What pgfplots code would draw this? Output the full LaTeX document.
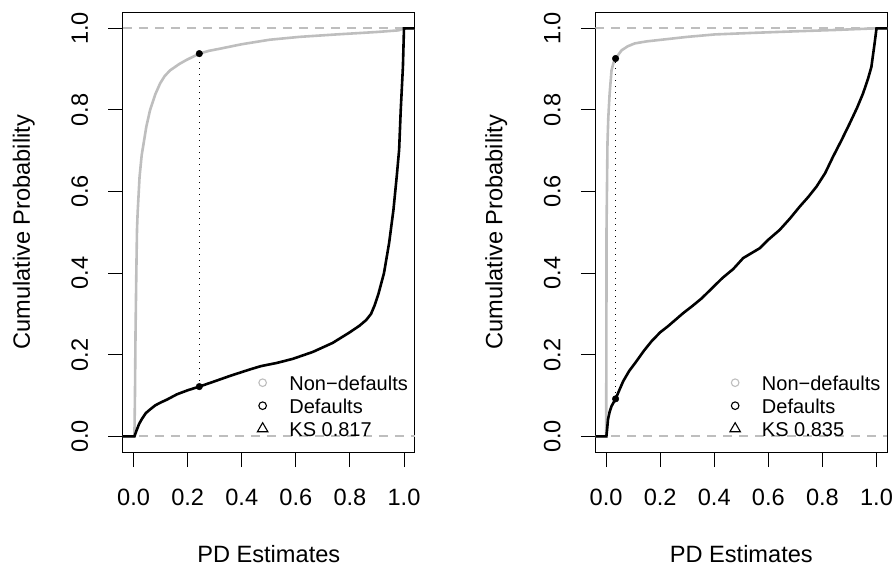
\documentclass[border=0pt]{standalone}
\usepackage{fontspec}
\setmainfont{Liberation Sans}
\usepackage{pgfplots}
\pgfplotsset{compat=1.18}
\definecolor{rgray}{HTML}{BEBEBE}

\pgfplotsset{
  rplot/.style={
    width=292pt, height=440.7pt, scale only axis,
    xmin=-0.04, xmax=1.04, ymin=-0.04, ymax=1.04,
    xtick={0,0.2,0.4,0.6,0.8,1.0},
    ytick={0,0.2,0.4,0.6,0.8,1.0},
    /pgf/number format/.cd, fixed, fixed zerofill, precision=1, assume math mode=true,
    /pgfplots/.cd,
    tick align=outside, tick pos=left,
    major tick length=14.5pt,
    every tick/.style={black, line width=0.9pt},
    axis line style={line width=0.9pt},
    tick label style={font=\fontsize{23.6}{28}\selectfont},
    label style={font=\fontsize{23.6}{28}\selectfont},
    xticklabel style={anchor=base},
    xticklabel shift=38.5pt,
    yticklabel style={rotate=90, anchor=base},
    yticklabel shift=20.5pt,
    xlabel={PD Estimates},
    ylabel={Cumulative Probability},
    xlabel style={at={([yshift=-109.6pt]axis description cs:0.5,0)}, anchor=base},
    ylabel style={at={([xshift=-93pt]axis description cs:0,0.5)}, anchor=base, rotate=0},
    legend style={draw=none, fill=none, inner sep=0pt, outer sep=0pt,
      font=\fontsize{20}{24}\selectfont,
      at={(axis cs:0.458,0.1553)}, anchor=north west,
      row sep=3.6pt, column sep=21.6pt,
      nodes={inner sep=0pt, text height=17pt, text depth=2.4pt}},
    legend cell align=left,
    legend image code/.code={\draw[#1] plot coordinates {(0pt,0pt)};},
  }
}

\begin{document}
\begin{tikzpicture}[x=1pt,y=1pt]
\useasboundingbox (0,0) rectangle (896,569);

% ---------------- Left panel ----------------
\begin{axis}[rplot, at={(122.8pt,116.3pt)}, anchor=south west]
\addplot[rgray, line width=2pt, dash pattern=on 9pt off 7pt, forget plot] coordinates {(-0.04,0) (1.04,0)};
\addplot[rgray, line width=2pt, dash pattern=on 9pt off 7pt, forget plot] coordinates {(-0.04,1) (1.04,1)};
\addplot[rgray, line width=2.6pt, forget plot] coordinates {
(-0.04,0) (0.003,0) (0.005,0.1) (0.007,0.25) (0.01,0.4) (0.0125,0.506) (0.015,0.55)
(0.022,0.636) (0.03,0.69) (0.037,0.718) (0.047,0.759) (0.061,0.80) (0.08,0.838)
(0.098,0.865) (0.115,0.883) (0.135,0.897) (0.17,0.913) (0.197,0.923) (0.243,0.938) (0.28,0.945) (0.319,0.950)
(0.4,0.961) (0.503,0.972) (0.613,0.979) (0.75,0.985) (0.9,0.991) (0.98,0.995) (1.0,1.0) (1.04,1.0)};
\addplot[black, line width=2.6pt, forget plot] coordinates {
(-0.04,0) (0.003,0) (0.01,0.013) (0.02,0.03) (0.03,0.042) (0.045,0.057) (0.061,0.066)
(0.08,0.076) (0.1,0.083) (0.123,0.09) (0.16,0.103) (0.2,0.113) (0.243,0.122)
(0.3,0.135) (0.36,0.149) (0.43,0.164) (0.47,0.172) (0.53,0.180) (0.589,0.190)
(0.663,0.207) (0.736,0.229) (0.797,0.254) (0.835,0.271) (0.86,0.285) (0.878,0.300)
(0.892,0.322) (0.905,0.348) (0.926,0.40) (0.945,0.474) (0.961,0.555) (0.973,0.636) (0.982,0.702)
(0.988,0.80) (0.996,0.905) (1.0,1.0) (1.04,1.0)};
\addplot[black, line width=1pt, dash pattern=on 1pt off 5pt, forget plot] coordinates {(0.243,0.122) (0.243,0.938)};
\addplot[only marks, mark=*, mark size=3.3pt, black, forget plot] coordinates {(0.243,0.122) (0.243,0.938)};
\addlegendimage{only marks, mark=o, mark size=3.8pt, rgray, line width=1.1pt}
\addlegendentry{Non−defaults}
\addlegendimage{only marks, mark=o, mark size=3.8pt, black, line width=1.1pt}
\addlegendentry{Defaults}
\addlegendimage{only marks, mark=triangle, mark size=6pt, black, line width=1.1pt}
\addlegendentry{KS 0.817}
\end{axis}

% ---------------- Right panel ----------------
\begin{axis}[rplot, at={(595.3pt,116.3pt)}, anchor=south west]
\addplot[rgray, line width=2pt, dash pattern=on 9pt off 7pt, forget plot] coordinates {(-0.04,0) (1.04,0)};
\addplot[rgray, line width=2pt, dash pattern=on 9pt off 7pt, forget plot] coordinates {(-0.04,1) (1.04,1)};
\addplot[rgray, line width=2.6pt, forget plot] coordinates {
(-0.04,0) (0.0,0) (0.001,0.2) (0.0015,0.506) (0.005,0.718) (0.008,0.78) (0.013,0.84)
(0.02,0.897) (0.027,0.915) (0.035,0.926) (0.057,0.946) (0.08,0.956) (0.106,0.963)
(0.15,0.968) (0.205,0.972) (0.3,0.979) (0.402,0.985) (0.55,0.989) (0.716,0.993)
(0.85,0.996) (1.0,1.0) (1.04,1.0)};
\addplot[black, line width=2.6pt, forget plot] coordinates {
(-0.04,0) (0.001,0) (0.004,0.02) (0.007,0.042) (0.013,0.06) (0.02,0.074) (0.035,0.092)
(0.05,0.115) (0.063,0.135) (0.085,0.16) (0.112,0.184) (0.14,0.21) (0.168,0.233)
(0.2,0.255) (0.229,0.27) (0.285,0.302) (0.32,0.32) (0.353,0.338) (0.39,0.362)
(0.43,0.388) (0.47,0.41) (0.507,0.437) (0.54,0.45) (0.568,0.461) (0.6,0.482)
(0.642,0.506) (0.68,0.534) (0.716,0.563) (0.748,0.587) (0.778,0.612) (0.81,0.645)
(0.839,0.685) (0.87,0.725) (0.901,0.767) (0.928,0.805) (0.95,0.84) (0.968,0.875)
(0.981,0.905) (0.993,0.963) (1.0,1.0) (1.04,1.0)};
\addplot[black, line width=1pt, dash pattern=on 1pt off 5pt, forget plot] coordinates {(0.035,0.092) (0.035,0.926)};
\addplot[only marks, mark=*, mark size=3.3pt, black, forget plot] coordinates {(0.035,0.092) (0.035,0.926)};
\addlegendimage{only marks, mark=o, mark size=3.8pt, rgray, line width=1.1pt}
\addlegendentry{Non−defaults}
\addlegendimage{only marks, mark=o, mark size=3.8pt, black, line width=1.1pt}
\addlegendentry{Defaults}
\addlegendimage{only marks, mark=triangle, mark size=6pt, black, line width=1.1pt}
\addlegendentry{KS 0.835}
\end{axis}
\end{tikzpicture}
\end{document}
